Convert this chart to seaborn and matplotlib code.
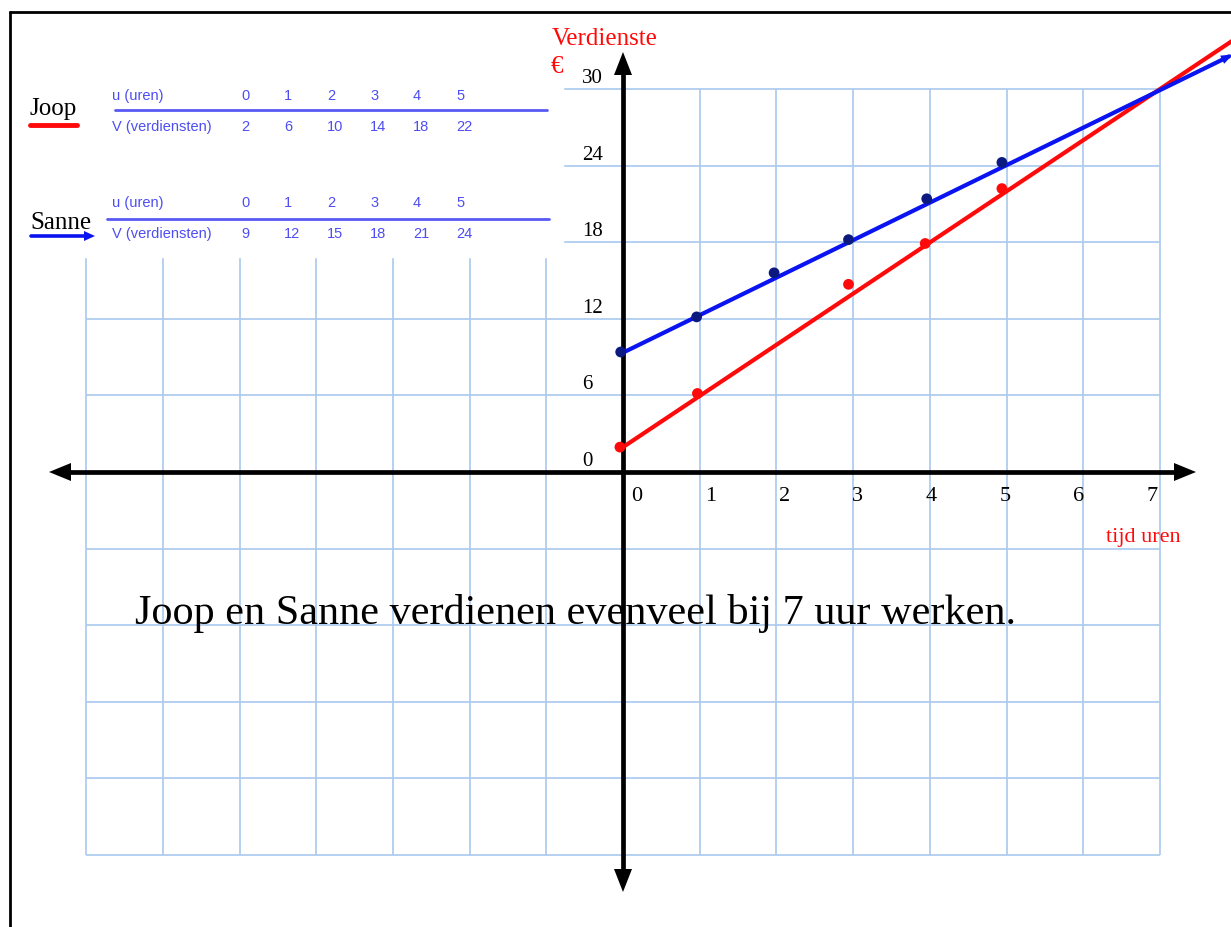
import matplotlib
matplotlib.use('Agg')
import matplotlib.pyplot as plt
from matplotlib.patches import Polygon, Rectangle
import seaborn as sns
import pandas as pd
import numpy as np

# tabellen (uren -> verdiensten)
uren = [0, 1, 2, 3, 4, 5]
joop_verdienst = [2, 6, 10, 14, 18, 22]
sanne_verdienst = [9, 12, 15, 18, 21, 24]

# punten zoals ze in de grafiek staan
joop_punt_uren = [-0.04, 0.97, 2.94, 3.94, 4.94]
joop_punt_euro = [1.95, 6.15, 14.7, 17.9, 22.2]
sanne_punt_uren = [-0.03, 0.96, 1.97, 2.94, 3.96, 4.94]
sanne_punt_euro = [9.4, 12.15, 15.6, 18.2, 21.4, 24.25]

# getekende lijnen (begin- en eindpunt)
joop_lijn_uren = [0, 7.95]
joop_lijn_euro = [1.95, 33.8]
sanne_lijn_uren = [0, 7.9]
sanne_lijn_euro = [9.35, 32.55]

x_ticks = [0, 1, 2, 3, 4, 5, 6, 7]
y_ticks = [0, 6, 12, 18, 24, 30]

ROOD = '#ff0a0a'
BLAUW = '#0a14f0'
NAVY = '#0c1a80'
TABEL = '#4d4df2'
RASTER = '#a9c9ef'

# pixel-maten van het plaatje
W, H = 1231, 928
X0, Y0 = 623, 473
SX = 76.7
SY = 76.6 / 6

sns.set_style('white')
plt.rcParams['font.family'] = ['Liberation Serif', 'DejaVu Serif']
plt.rcParams['text.color'] = 'black'

fig = plt.figure(figsize=(W / 100, H / 100), dpi=100)
ax = fig.add_axes([0, 0, 1, 1])


def fx(px):
    return px / W


def fy(py):
    return 1 - py / H


def px2x(px):
    return (px - X0) / SX


def py2y(py):
    return (Y0 - py) / SY


def pijlpunt(tip, richting, lengte, breedte, kleur, z):
    # driehoekje in pixels, richting als (dx, dy) in pixels
    d = np.array(richting, float)
    d /= np.hypot(*d)
    n = np.array([-d[1], d[0]])
    t = np.array(tip, float)
    b = t - d * lengte
    pts = [t, b + n * breedte / 2, b - n * breedte / 2]
    ax.add_patch(Polygon([(fx(p[0]), fy(p[1])) for p in pts], closed=True,
                         transform=ax.transAxes, color=kleur, lw=0, zorder=z))


# raster
for gx in range(-7, 8):
    ax.vlines(gx, -30, 30, color=RASTER, lw=1.2, zorder=1)
for gy in range(-30, 31, 6):
    ax.hlines(gy, -7, 7, color=RASTER, lw=1.2, zorder=1)

# witte vlak achter de tabellen
ax.add_patch(Rectangle((fx(12), fy(258)), fx(563) - fx(12), fy(15) - fy(258),
                       transform=ax.transAxes, color='white', zorder=2))

# assen met pijlen
ax.plot([px2x(65), px2x(1180)], [0, 0], color='black', lw=3.4,
        solid_capstyle='butt', zorder=4)
ax.plot([0, 0], [py2y(70), py2y(876)], color='black', lw=3.4,
        solid_capstyle='butt', zorder=4)
pijlpunt((1196, Y0), (1, 0), 22, 18, 'black', 4)
pijlpunt((49, Y0), (-1, 0), 22, 18, 'black', 4)
pijlpunt((X0, 53), (0, -1), 23, 18, 'black', 4)
pijlpunt((X0, 893), (0, 1), 23, 18, 'black', 4)

# lijnen
df_joop = pd.DataFrame({'uren': joop_lijn_uren, 'euro': joop_lijn_euro})
df_sanne = pd.DataFrame({'uren': sanne_lijn_uren, 'euro': sanne_lijn_euro})
sns.lineplot(data=df_joop, x='uren', y='euro', color=ROOD, lw=3, sort=False,
             legend=False, ax=ax, zorder=5)
sns.lineplot(data=df_sanne, x='uren', y='euro', color=BLAUW, lw=3, sort=False,
             legend=False, ax=ax, zorder=5)
eind = (X0 + sanne_lijn_uren[-1] * SX, Y0 - sanne_lijn_euro[-1] * SY)
start = (X0 + sanne_lijn_uren[0] * SX, Y0 - sanne_lijn_euro[0] * SY)
pijlpunt((eind[0] + 4, eind[1] - 2), (eind[0] - start[0], eind[1] - start[1]),
         12, 9, BLAUW, 5)

# punten
sns.scatterplot(x=joop_punt_uren, y=joop_punt_euro, color=ROOD, s=60,
                edgecolor='none', ax=ax, zorder=6)
sns.scatterplot(x=sanne_punt_uren, y=sanne_punt_euro, color=NAVY, s=60,
                edgecolor='none', ax=ax, zorder=6)

ax.set_xlim(-X0 / SX, (W - X0) / SX)
ax.set_ylim(-(H - Y0) / SY, Y0 / SY)
ax.axis('off')

# as-getallen
for i, t in enumerate(y_ticks):
    ax.text(fx(582), fy(Y0 - t * SY - 7), str(t), transform=ax.transAxes,
            fontsize=15, ha='left', va='baseline', zorder=7)
for i, t in enumerate(x_ticks):
    ax.text(fx(637 + i * 73.6), fy(501), str(t), transform=ax.transAxes,
            fontsize=16, ha='center', va='baseline', zorder=7)

ax.text(fx(552), fy(45), 'Verdienste', transform=ax.transAxes, fontsize=18,
        color=ROOD, va='baseline', zorder=7)
ax.text(fx(551), fy(73), '€', transform=ax.transAxes, fontsize=18,
        color=ROOD, va='baseline', zorder=7)
ax.text(fx(1106), fy(542), 'tijd uren', transform=ax.transAxes, fontsize=16,
        color=ROOD, va='baseline', zorder=7)

ax.text(fx(135), fy(624), 'Joop en Sanne verdienen evenveel bij 7 uur werken.',
        transform=ax.transAxes, fontsize=30.4, va='baseline', zorder=3)

# legenda / tabellen
ax.text(fx(30), fy(115), 'Joop', transform=ax.transAxes, fontsize=18,
        va='baseline', zorder=7)
ax.plot([fx(30), fx(77)], [fy(126), fy(126)], transform=ax.transAxes,
        color=ROOD, lw=3.5, solid_capstyle='round', zorder=7)
ax.text(fx(30), fy(229), 'Sanne', transform=ax.transAxes, fontsize=18,
        va='baseline', zorder=7)
ax.plot([fx(31), fx(86)], [fy(237), fy(237)], transform=ax.transAxes,
        color=BLAUW, lw=2.6, solid_capstyle='round', zorder=7)
pijlpunt((95, 237), (1, 0), 11, 10, BLAUW, 7)


def tabel(y_u, y_lijn, y_v, lijn_x0, lijn_x1, waarden):
    kw = dict(transform=ax.transAxes, fontsize=10.5, color=TABEL,
              family=['Liberation Sans', 'DejaVu Sans'], va='baseline', zorder=7)
    ax.text(fx(112), fy(y_u), 'u (uren)', **kw)
    ax.text(fx(112), fy(y_v), 'V (verdiensten)', **kw)
    for i, (u, v) in enumerate(zip(uren, waarden)):
        ax.text(fx(241 + 43 * i), fy(y_u), str(u), **kw)
        ax.text(fx(241 + 43 * i), fy(y_v), str(v), **kw)
    ax.plot([fx(lijn_x0), fx(lijn_x1)], [fy(y_lijn), fy(y_lijn)],
            transform=ax.transAxes, color='#5858f4', lw=2, zorder=7)


tabel(100, 111, 131, 115, 547, joop_verdienst)
tabel(207, 220, 238, 107, 549, sanne_verdienst)

# kader
ax.plot([fx(10), fx(10)], [0, fy(12)], transform=ax.transAxes, color='black',
        lw=2, solid_capstyle='butt', clip_on=False, zorder=8)
ax.plot([fx(9), 1], [fy(13), fy(13)], transform=ax.transAxes, color='black',
        lw=2, solid_capstyle='butt', clip_on=False, zorder=8)

fig.savefig('out.png', dpi=100)
